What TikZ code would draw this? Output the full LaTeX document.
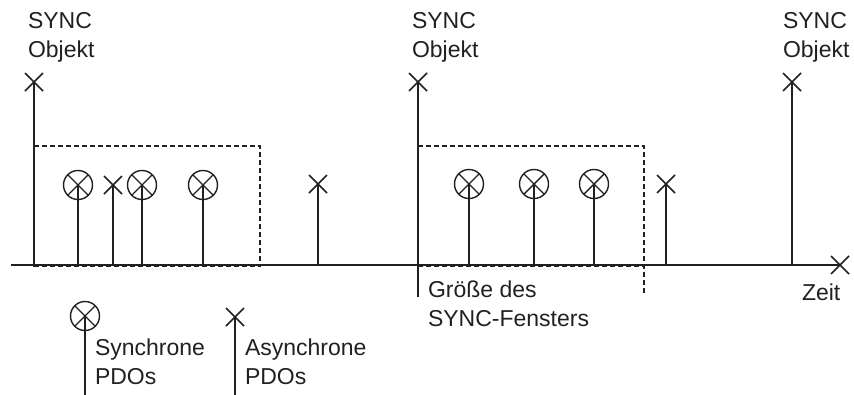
\documentclass[tikz,border=0pt]{standalone}
\usepackage{fontspec}
\setmainfont{Liberation Sans}
\usetikzlibrary{shapes.misc}

\begin{document}
\begin{tikzpicture}[x=1pt,y=-1pt,line cap=rect,
	every node/.style={inner sep=0, outer sep=0},
	markx/.style={cross out, draw, minimum size=18pt, line width=1.6pt, line cap=butt},
	markc/.style={circle, draw, minimum size=29pt, line width=1.4pt,
		path picture={\draw[line width=1.4pt] (path picture bounding box.north west) -- (path picture bounding box.south east)
			(path picture bounding box.north east) -- (path picture bounding box.south west);}},
	stem/.style={line width=2pt},
	window/.style={line width=1.2pt, dash pattern=on 5pt off 3pt, line cap=butt},
	lbl/.style={custcol_23_1f_20, font=\fontsize{23pt}{29.5pt}\selectfont, align=left, anchor=base west}]
	\definecolor{custcol_23_1f_20}{RGB}{35, 31, 32}
	\useasboundingbox (0.0,0.0) rectangle (854.0,394.0);
	\tikzset{every path/.style={draw=custcol_23_1f_20}}
	% Zeitachse
	\coordinate (t0) at (12.0,265.0);
	\node[markx] (tend) at (840.0,265.0) {};
	\draw [stem] (t0) -- (tend.center);
	% Fenster
	\draw [window] (34.0,146.0) rectangle (260.0,266.5);
	\draw [window] (418.0,266.5) -- (418.0,146.0) -- (644.0,146.0) -- (644.0,293.0);
	\draw [window] (418.0,266.5) -- (644.0,266.5);
	% SYNC Objekte
	\node[markx] (s1) at (34.0,82.0) {};
	\node[markx] (s2) at (418.0,82.0) {};
	\node[markx] (s3) at (792.0,82.0) {};
	\coordinate (g0) at (418.0,296.0);
	\draw [stem] (s1.center) -- (s1.center |- t0);
	\draw [stem] (s2.center) -- (g0);
	\draw [stem] (s3.center) -- (s3.center |- t0);
	% synchrone PDOs
	\node[markc] (p1) at (78.0,185.0) {};
	\node[markc] (p2) at (142.0,185.0) {};
	\node[markc] (p3) at (203.0,185.0) {};
	\node[markc] (p4) at (469.0,184.0) {};
	\node[markc] (p5) at (534.0,184.0) {};
	\node[markc] (p6) at (594.0,184.0) {};
	\draw [stem] (p1.center) -- (p1.center |- t0);
	\draw [stem] (p2.center) -- (p2.center |- t0);
	\draw [stem] (p3.center) -- (p3.center |- t0);
	\draw [stem] (p4.center) -- (p4.center |- t0);
	\draw [stem] (p5.center) -- (p5.center |- t0);
	\draw [stem] (p6.center) -- (p6.center |- t0);
	% asynchrone PDOs
	\node[markx] (a1) at (113.0,185.0) {};
	\node[markx] (a2) at (318.0,184.0) {};
	\node[markx] (a3) at (666.0,184.0) {};
	\draw [stem] (a1.center) -- (a1.center |- t0);
	\draw [stem] (a2.center) -- (a2.center |- t0);
	\draw [stem] (a3.center) -- (a3.center |- t0);
	% Legende
	\coordinate (lbot) at (0.0,394.0);
	\node[markc] (lc) at (85.0,316.0) {};
	\node[markx] (lx) at (235.0,317.0) {};
	\draw [stem] (lc.center) -- (lc.center |- lbot);
	\draw [stem] (lx.center) -- (lx.center |- lbot);
	% Texte (base = letzte Zeile)
	\node[lbl] (sync1) at (28.0,57.5) {SYNC\\Objekt};
	\node[lbl] (sync2) at (412.0,57.5) {SYNC\\Objekt};
	\node[lbl] (sync3) at (783.0,57.5) {SYNC\\Objekt};
	\node[lbl] (fenster) at (428.0,326.5) {Größe des\\SYNC-Fensters};
	\node[lbl] (zeit) at (802.0,300.0) {Zeit};
	\node[lbl] (lsync) at (95.0,384.5) {Synchrone\\PDOs};
	\node[lbl] (lasync) at (245.0,384.5) {Asynchrone\\PDOs};
\end{tikzpicture}
\end{document}
